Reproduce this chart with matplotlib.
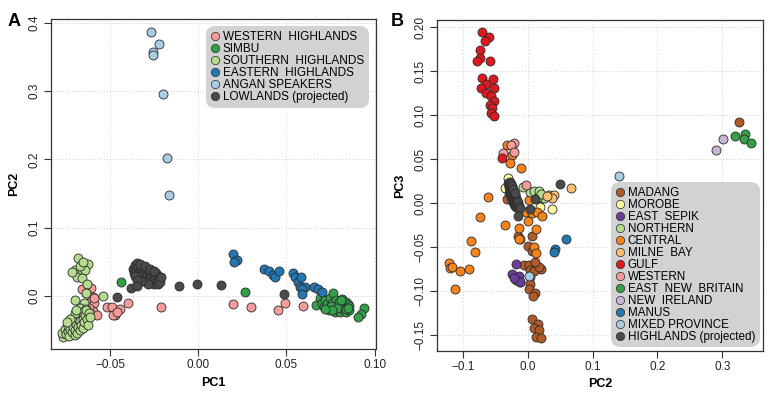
import matplotlib
matplotlib.use("Agg")
import matplotlib.pyplot as plt
from matplotlib.lines import Line2D

plt.rcParams['font.family'] = ['Liberation Sans', 'DejaVu Sans']

# ---------------- Panel A data (PC1, PC2) ----------------
wh_pc1 = [-0.0606, -0.0636, -0.0598, -0.0617, -0.0590, -0.0598, -0.0575, -0.0660, -0.0589, -0.0620,
          -0.0519, -0.0490, -0.0472, -0.0443, -0.0485, -0.0460, -0.0396, -0.0211, 0.0198, 0.0298,
          0.0453, 0.0491, 0.0591]
wh_pc2 = [0.0113, 0.0040, -0.0020, -0.0098, -0.0107, -0.0215, -0.0280, 0.0110, -0.0025, -0.0170,
          -0.0166, -0.0166, -0.0280, -0.0186, -0.0280, -0.0230, -0.0098, -0.0157, -0.0122, -0.0157,
          -0.0205, -0.0098, -0.0142]

simbu_pc1 = [-0.0438, 0.0266, 0.0670, 0.0690, 0.0700, 0.0715, 0.0720, 0.0730, 0.0740, 0.0745, 0.0765,
             0.0760, 0.0770, 0.0775, 0.0780, 0.0790, 0.0795, 0.0800, 0.0805, 0.0810, 0.0815, 0.0820,
             0.0825, 0.0830, 0.0835, 0.0840, 0.0845, 0.0850, 0.0855, 0.0852, 0.0750, 0.0785, 0.0810,
             0.0835, 0.0760, 0.0720, 0.0848, 0.0938, 0.0925, 0.0906]
simbu_pc2 = [0.0210, 0.0063, -0.0130, -0.0035, -0.0100, -0.0160, -0.0060, -0.0120, -0.0200, -0.0030, 0.0040,
             -0.0100, -0.0160, -0.0230, -0.0060, -0.0130, -0.0200, -0.0090, -0.0240, -0.0160, -0.0040, -0.0110,
             -0.0200, -0.0140, -0.0230, -0.0080, -0.0170, -0.0120, -0.0200, -0.0150, -0.0150, -0.0180, -0.0060,
             -0.0190, -0.0210, -0.0190, -0.0180, -0.0180, -0.0260, -0.0310]

sh_pc1 = [-0.0680, -0.0623, -0.0698, -0.0660, -0.0642, -0.0689, -0.0660, -0.0670, -0.0717, -0.0651,
          -0.0628, -0.0636, -0.0538, -0.0698, -0.0647, -0.0670, -0.0636,
          -0.0765, -0.0770, -0.0755, -0.0750, -0.0740, -0.0735, -0.0730, -0.0725, -0.0720, -0.0715,
          -0.0710, -0.0705, -0.0700, -0.0698, -0.0692, -0.0688, -0.0685, -0.0680, -0.0675, -0.0672,
          -0.0668, -0.0662, -0.0658, -0.0655, -0.0650, -0.0645, -0.0640, -0.0635, -0.0630, -0.0625,
          -0.0620, -0.0615, -0.0700, -0.0690, -0.0725, -0.0745]
sh_pc2 = [0.0550, 0.0468, 0.0380, 0.0356, 0.0380, 0.0273, 0.0259, 0.0440, 0.0356, 0.0502,
          0.0176, 0.0049, 0.0000, -0.0059, -0.0107, -0.0180, -0.0195,
          -0.0600, -0.0540, -0.0480, -0.0560, -0.0510, -0.0440, -0.0580, -0.0480, -0.0400, -0.0530,
          -0.0450, -0.0360, -0.0570, -0.0490, -0.0410, -0.0320, -0.0540, -0.0450, -0.0270, -0.0370,
          -0.0500, -0.0420, -0.0230, -0.0330, -0.0460, -0.0380, -0.0280, -0.0200, -0.0340, -0.0420,
          -0.0250, -0.0310, -0.0250, -0.0200, -0.0330, -0.0380]

eh_pc1 = [0.0198, 0.0217, 0.0204, 0.0374, 0.0400, 0.0425, 0.0434, 0.0459, 0.0538, 0.0548,
          0.0566, 0.0585, 0.0576, 0.0604, 0.0589, 0.0589, 0.0655, 0.0680, 0.0704]
eh_pc2 = [0.0610, 0.0527, 0.0493, 0.0390, 0.0366, 0.0307, 0.0273, 0.0366, 0.0342, 0.0273,
          0.0200, 0.0273, 0.0137, 0.0137, 0.0098, 0.0025, 0.0127, 0.0102, 0.0063]

angan_pc1 = [-0.0268, -0.0221, -0.0258, -0.0255, -0.0202, -0.0179, -0.0166]
angan_pc2 = [0.3870, 0.3685, 0.3577, 0.3524, 0.2958, 0.2020, 0.1480]

low_pc1 = [-0.0370, -0.0365, -0.0360, -0.0355, -0.0350, -0.0345, -0.0340, -0.0340, -0.0335, -0.0330,
           -0.0325, -0.0320, -0.0318, -0.0312, -0.0310, -0.0305, -0.0300, -0.0298, -0.0292, -0.0290,
           -0.0285, -0.0280, -0.0276, -0.0270, -0.0268, -0.0262, -0.0258, -0.0252, -0.0248, -0.0245,
           -0.0240, -0.0235, -0.0230, -0.0226, -0.0222, -0.0215, -0.0212, -0.0360, -0.0332, -0.0300,
           -0.0275, -0.0250, -0.0285, -0.0325, -0.0348,
           -0.0383, -0.0345, -0.0462, -0.0109, -0.0009, 0.0129, 0.0487]
low_pc2 = [0.040, 0.034, 0.045, 0.028, 0.038, 0.048, 0.032, 0.042, 0.025, 0.036,
           0.044, 0.029, 0.039, 0.022, 0.033, 0.041, 0.027, 0.036, 0.020, 0.031,
           0.038, 0.025, 0.033, 0.019, 0.029, 0.036, 0.023, 0.031, 0.018, 0.027,
           0.034, 0.022, 0.029, 0.018, 0.025, 0.021, 0.028, 0.030, 0.047, 0.044,
           0.040, 0.037, 0.017, 0.022, 0.024,
           0.012, 0.015, -0.002, 0.015, 0.017, 0.0156, 0.0034]

legend_a = ["WESTERN  HIGHLANDS", "SIMBU", "SOUTHERN  HIGHLANDS", "EASTERN  HIGHLANDS",
            "ANGAN SPEAKERS", "LOWLANDS (projected)"]

# ---------------- Panel B data (PC2, PC3) ----------------
madang_pc2 = [0.3251, -0.0318, 0.0068, 0.0000, 0.0068, -0.0062, 0.0015, 0.0206, 0.0030, 0.0092, 0.0170,
              0.0119, 0.0042, 0.0042, 0.0015, 0.0119, 0.0083, -0.0112, -0.0140,
              0.0068, 0.0160, 0.0092, 0.0180, 0.0134, 0.0211]
madang_pc3 = [0.0927, 0.0050, -0.0372, -0.0485, -0.0538, -0.0701, -0.0701, -0.0747, -0.0758, -0.0769, -0.0731,
              -0.0667, -0.0841, -0.0917, -0.0977, -0.1016, -0.1053, -0.0894, -0.0370,
              -0.1318, -0.1375, -0.1420, -0.1440, -0.1516, -0.1534]

morobe_pc2 = [-0.0302, -0.0344, 0.0196, 0.0376, 0.0180]
morobe_pc3 = [0.0284, 0.0170, -0.0045, -0.0068, 0.0120]

sepik_pc2 = [-0.0174, -0.0240, -0.0139, -0.0174, -0.0123, -0.0205]
sepik_pc3 = [-0.0693, -0.0807, -0.0826, -0.0872, -0.0891, -0.0845]

northern_pc2 = [0.0042, 0.0100, 0.0170, -0.0077, 0.0222, 0.0260, 0.0140, 0.0200]
northern_pc3 = [0.0132, 0.0140, 0.0140, 0.0189, 0.0057, 0.0060, 0.0060, 0.0100]

central_pc2 = [-0.0318, -0.0240, -0.0267, -0.0097, -0.0616, -0.0729, -0.0354, -0.0139, -0.0112,
               -0.0867, -0.0817, -0.1217, -0.1191, -0.1165, -0.1037, -0.0896, -0.1125, 0.0103,
               0.0129, 0.0015, -0.0020, 0.0000, 0.0068, 0.0145, 0.0222, 0.0134, -0.0128]
central_pc3 = [0.0663, 0.0549, 0.0455, 0.0398, 0.0070, -0.0152, -0.0247, -0.0284, -0.0409,
               -0.0428, -0.0550, -0.0675, -0.0739, -0.0727, -0.0769, -0.0746, -0.0977, -0.0493,
               -0.0561, 0.0038, -0.0095, -0.0198, -0.0114, -0.0095, -0.0144, -0.0295, -0.0406]

milne_pc2 = [0.0673, 0.0324, 0.0400, 0.0376, 0.0300]
milne_pc3 = [0.0170, 0.0094, 0.0094, 0.0057, 0.0080]

gulf_pc2 = [-0.0703, -0.0600, -0.0662, -0.0729, -0.0729, -0.0780, -0.0586, -0.0703, -0.0539, -0.0636,
            -0.0714, -0.0513, -0.0636, -0.0559, -0.0524, -0.0575, -0.0550, -0.0559, -0.0518, -0.0395]
gulf_pc3 = [0.1950, 0.1893, 0.1848, 0.1742, 0.1648, 0.1620, 0.1620, 0.1427, 0.1409, 0.1356,
            0.1307, 0.1307, 0.1257, 0.1219, 0.1163, 0.1117, 0.1080, 0.1030, 0.0992, 0.0518]

western_pc2 = [-0.0216, -0.0250, -0.0205, -0.0385, -0.0025]
western_pc3 = [0.0689, 0.0660, 0.0587, 0.0575, 0.0208]

enb_pc2 = [0.3200, 0.3354, 0.3339, 0.3447]
enb_pc3 = [0.0765, 0.0784, 0.0727, 0.0689]

nireland_pc2 = [0.3010, 0.2907]
nireland_pc3 = [0.0727, 0.0606]

manus_pc2 = [0.0596, 0.0427, 0.0407]
manus_pc3 = [-0.0406, -0.0519, -0.0557]

mixed_pc2 = [0.0026, 0.1402]
mixed_pc3 = [-0.0826, 0.0310]

hl_pc2 = [-0.0300, -0.0290, -0.0285, -0.0280, -0.0275, -0.0270, -0.0265, -0.0260, -0.0255, -0.0250,
          -0.0245, -0.0240, -0.0235, -0.0230, -0.0225, -0.0220, -0.0215, -0.0210, -0.0205, -0.0200,
          -0.0195, -0.0190, -0.0185, -0.0180, -0.0175, -0.0170, -0.0160, -0.0150, -0.0140, -0.0130,
          -0.0120, -0.0260, -0.0240, -0.0220, -0.0200,
          0.0493, -0.0148, 0.0031, 0.0119]
hl_pc3 = [0.0230, 0.0180, 0.0120, 0.0210, 0.0150, 0.0240, 0.0100, 0.0190, 0.0130, 0.0070,
          0.0170, 0.0110, 0.0040, 0.0150, 0.0080, 0.0010, 0.0120, 0.0050, -0.0010, 0.0090,
          0.0030, -0.0030, 0.0060, 0.0000, -0.0040, 0.0030, -0.0020, -0.0050, 0.0010, -0.0030,
          -0.0060, 0.0220, 0.0200, 0.0160, 0.0120,
          0.0216, -0.0144, -0.0065, 0.0045]

legend_b = ["MADANG", "MOROBE", "EAST  SEPIK", "NORTHERN", "CENTRAL", "MILNE  BAY", "GULF",
            "WESTERN", "EAST  NEW  BRITAIN", "NEW  IRELAND", "MANUS", "MIXED PROVINCE",
            "HIGHLANDS (projected)"]

# ---------------- Colors ----------------
c_pink = "#F59C9A"
c_green = "#34A047"
c_lgreen = "#B3DC8E"
c_blue = "#2378B3"
c_lblue = "#A8CDE3"
c_gray = "#4A4A4A"
c_brown = "#B05A28"
c_yellow = "#FDF9A0"
c_purple = "#6A3D9A"
c_orange = "#F8821C"
c_lorange = "#FBBF72"
c_red = "#E0191E"
c_lpurple = "#CBB3D6"

EDGE = "#2A2A2A"
S = 42

fig = plt.figure(figsize=(7.7, 3.93), dpi=100)
axA = fig.add_axes([0.0658, 0.111, 0.4222, 0.840])
axB = fig.add_axes([0.5671, 0.107, 0.4242, 0.842])


def style(ax):
    for sp in ax.spines.values():
        sp.set_color("#333333")
        sp.set_linewidth(0.9)
    ax.grid(True, linestyle=(0, (1, 2)), color="#D0D0D0", linewidth=0.7)
    ax.set_axisbelow(True)
    ax.tick_params(axis="both", direction="out", length=5, width=0.8, color="#333333",
                   labelsize=8.5, labelcolor="#222222", pad=2)
    for lab in ax.get_yticklabels():
        lab.set_rotation(90)
        lab.set_va("center")


def sc(ax, x, y, c):
    ax.scatter(x, y, s=S, c=c, edgecolors=EDGE, linewidths=0.6, zorder=3)


# Panel A
sc(axA, wh_pc1, wh_pc2, c_pink)
sc(axA, simbu_pc1, simbu_pc2, c_green)
sc(axA, sh_pc1, sh_pc2, c_lgreen)
sc(axA, eh_pc1, eh_pc2, c_blue)
sc(axA, angan_pc1, angan_pc2, c_lblue)
sc(axA, low_pc1, low_pc2, c_gray)
axA.set_xlim(-0.0836, 0.1006)
axA.set_ylim(-0.078, 0.405)
axA.set_xticks([-0.05, 0.0, 0.05, 0.10])
axA.set_xticklabels(["\u22120.05", "0.00", "0.05", "0.10"])
axA.set_yticks([0.0, 0.1, 0.2, 0.3, 0.4])
axA.set_yticklabels(["0.0", "0.1", "0.2", "0.3", "0.4"])
style(axA)
axA.set_xlabel("PC1", fontsize=9, fontweight="bold", labelpad=4)
axA.set_ylabel("PC2", fontsize=9, fontweight="bold", labelpad=6)

cols_a = [c_pink, c_green, c_lgreen, c_blue, c_lblue, c_gray]
handles_a = [Line2D([], [], marker="o", ls="", markersize=6, markerfacecolor=c,
                    markeredgecolor=EDGE, markeredgewidth=0.5) for c in cols_a]
legA = axA.legend(handles_a, legend_a, loc="upper right", fontsize=8.5, frameon=True,
                  fancybox=True, facecolor="#D2D2D2", edgecolor="none", framealpha=1,
                  handlelength=0.7, handletextpad=0.3, labelspacing=0.0, borderpad=0.25,
                  borderaxespad=0.75)
legA.get_frame().set_boxstyle("round,pad=0.2,rounding_size=0.8")
legA.set_zorder(5)

# Panel B
sc(axB, madang_pc2, madang_pc3, c_brown)
sc(axB, morobe_pc2, morobe_pc3, c_yellow)
sc(axB, central_pc2, central_pc3, c_orange)
sc(axB, sepik_pc2, sepik_pc3, c_purple)
sc(axB, northern_pc2, northern_pc3, c_lgreen)
sc(axB, milne_pc2, milne_pc3, c_lorange)
sc(axB, western_pc2, western_pc3, c_pink)
sc(axB, gulf_pc2, gulf_pc3, c_red)
sc(axB, enb_pc2, enb_pc3, c_green)
sc(axB, nireland_pc2, nireland_pc3, c_lpurple)
sc(axB, manus_pc2, manus_pc3, c_blue)
sc(axB, mixed_pc2, mixed_pc3, c_lblue)
sc(axB, hl_pc2, hl_pc3, c_gray)
axB.set_xlim(-0.140, 0.363)
axB.set_ylim(-0.168, 0.2083)
axB.set_xticks([-0.1, 0.0, 0.1, 0.2, 0.3])
axB.set_xticklabels(["\u22120.1", "0.0", "0.1", "0.2", "0.3"])
axB.set_yticks([-0.15, -0.10, -0.05, 0.0, 0.05, 0.10, 0.15, 0.20])
axB.set_yticklabels(["\u22120.15", "\u22120.10", "\u22120.05", "0.00", "0.05", "0.10", "0.15", "0.20"])
style(axB)
axB.set_xlabel("PC2", fontsize=9, fontweight="bold", labelpad=4)
axB.set_ylabel("PC3", fontsize=9, fontweight="bold", labelpad=6)

cols_b = [c_brown, c_yellow, c_purple, c_lgreen, c_orange, c_lorange, c_red, c_pink,
          c_green, c_lpurple, c_blue, c_lblue, c_gray]
handles_b = [Line2D([], [], marker="o", ls="", markersize=6, markerfacecolor=c,
                    markeredgecolor=EDGE, markeredgewidth=0.5) for c in cols_b]
legB = axB.legend(handles_b, legend_b, loc="lower right", fontsize=8.4, frameon=True,
                  fancybox=True, facecolor="#D2D2D2", edgecolor="none", framealpha=1,
                  handlelength=0.7, handletextpad=0.3, labelspacing=0.0, borderpad=0.2,
                  borderaxespad=0.5)
legB.get_frame().set_boxstyle("round,pad=0.2,rounding_size=0.8")
legB.set_zorder(5)

fig.text(0.010, 0.935, "A", fontsize=13, fontweight="bold")
fig.text(0.508, 0.935, "B", fontsize=13, fontweight="bold")

fig.savefig("out.png", dpi=100)
